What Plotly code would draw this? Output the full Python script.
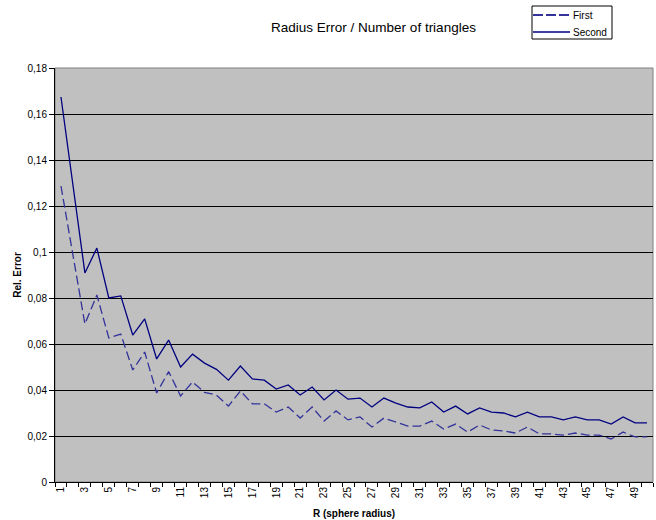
import plotly.graph_objects as go

radius = list(range(1, 51))

first = [0.1287, 0.0987, 0.0687, 0.0813, 0.0626, 0.0643, 0.0487, 0.0565, 0.0387, 0.0480,
         0.0374, 0.0435, 0.0390, 0.0378, 0.0330, 0.0396, 0.0340, 0.0340, 0.0304, 0.0326,
         0.0278, 0.0326, 0.0265, 0.0309, 0.0270, 0.0283, 0.0239, 0.0278, 0.0261, 0.0243,
         0.0243, 0.0265, 0.0230, 0.0252, 0.0217, 0.0248, 0.0226, 0.0222, 0.0213, 0.0239,
         0.0209, 0.0209, 0.0204, 0.0213, 0.0204, 0.0204, 0.0187, 0.0217, 0.0196, 0.0196]

second = [0.1674, 0.1290, 0.0909, 0.1017, 0.0800, 0.0809, 0.0639, 0.0709, 0.0535, 0.0617,
          0.0500, 0.0556, 0.0517, 0.0490, 0.0443, 0.0504, 0.0448, 0.0443, 0.0404, 0.0422,
          0.0378, 0.0413, 0.0357, 0.0400, 0.0360, 0.0365, 0.0326, 0.0365, 0.0343, 0.0326,
          0.0322, 0.0348, 0.0304, 0.0330, 0.0296, 0.0322, 0.0304, 0.0300, 0.0283, 0.0304,
          0.0283, 0.0283, 0.0270, 0.0283, 0.0270, 0.0270, 0.0252, 0.0283, 0.0257, 0.0257]

series_names = ["First", "Second"]
y_ticks = [0, 0.02, 0.04, 0.06, 0.08, 0.1, 0.12, 0.14, 0.16, 0.18]
y_labels = ["0", "0,02", "0,04", "0,06", "0,08", "0,1", "0,12", "0,14", "0,16", "0,18"]
x_label_vals = list(range(1, 51, 2))
x_tick_bounds = [k + 0.5 for k in range(0, 51)]

FONT = "Liberation Sans, Arial, sans-serif"
W, H = 656, 520
L, R, T, B = 55, 3, 68, 38
PW, PH = W - L - R, H - T - B
DASH_COLOR, SOLID_COLOR = "#33339A", "#000080"


def px(x):
    return (x - L) / PW


def py(y):
    return (H - B - y) / PH


fig = go.Figure()
fig.add_trace(go.Scatter(x=radius, y=first, name=series_names[0], mode="lines",
                         line=dict(color=DASH_COLOR, width=1.3, dash="9px,4px"),
                         showlegend=False))
fig.add_trace(go.Scatter(x=radius, y=second, name=series_names[1], mode="lines",
                         line=dict(color=SOLID_COLOR, width=1.3), showlegend=False))

fig.update_layout(
    width=W, height=H,
    margin=dict(l=L, r=R, t=T, b=B, autoexpand=False),
    paper_bgcolor="white",
    plot_bgcolor="#C0C0C0",
    font=dict(family=FONT, size=10, color="black"),
    title=dict(text="Radius Error / Number of triangles", x=373.5 / W, xanchor="center",
               y=1 - 27 / H, yanchor="middle",
               font=dict(family=FONT, size=13.5, color="black")),
    showlegend=False,
)

# legend box drawn by hand (Excel style)
fig.add_shape(type="rect", xref="paper", yref="paper",
              x0=px(532), x1=px(612), y0=py(39), y1=py(6),
              line=dict(color="black", width=1), fillcolor="white")
fig.add_shape(type="line", xref="paper", yref="paper",
              x0=px(533), x1=px(570), y0=py(15), y1=py(15),
              line=dict(color=DASH_COLOR, width=2, dash="10px,3px"))
fig.add_shape(type="line", xref="paper", yref="paper",
              x0=px(533), x1=px(570), y0=py(32), y1=py(32),
              line=dict(color=SOLID_COLOR, width=1.3))
for name, yy in zip(series_names, [15, 32]):
    fig.add_annotation(xref="paper", yref="paper", x=px(571), y=py(yy),
                       text=name, showarrow=False, xanchor="left", yanchor="middle",
                       font=dict(family=FONT, size=10, color="black"))

fig.update_xaxes(
    range=[0.5, 50.5], tickmode="array", tickvals=x_label_vals,
    ticktext=[str(v) for v in x_label_vals], tickangle=-90, ticks="",
    showgrid=False, zeroline=False,
    showline=True, linecolor="black", linewidth=1, mirror=False,
    minor=dict(tickmode="array", tickvals=x_tick_bounds, ticks="outside",
               ticklen=4, tickcolor="black", showgrid=False),
    title=dict(text="<b>R (sphere radius)</b>", font=dict(family=FONT, size=10), standoff=12),
    tickfont=dict(family=FONT, size=10),
)
fig.update_yaxes(
    range=[0, 0.18], tickmode="array", tickvals=y_ticks, ticktext=y_labels,
    ticks="outside", ticklen=5, tickcolor="black",
    showgrid=True, gridcolor="black", gridwidth=1, zeroline=False,
    showline=True, linecolor="black", linewidth=1,
    title=dict(text="<b>Rel. Error</b>", font=dict(family=FONT, size=10), standoff=4),
    tickfont=dict(family=FONT, size=10),
)

fig.add_shape(type="rect", xref="paper", yref="paper", x0=0, y0=0, x1=1, y1=1,
              line=dict(color="#808080", width=1), layer="below")

fig.write_html("out.html", config={"displayModeBar": False},
               post_script="document.body.style.margin='0';document.body.style.overflow='hidden';")
